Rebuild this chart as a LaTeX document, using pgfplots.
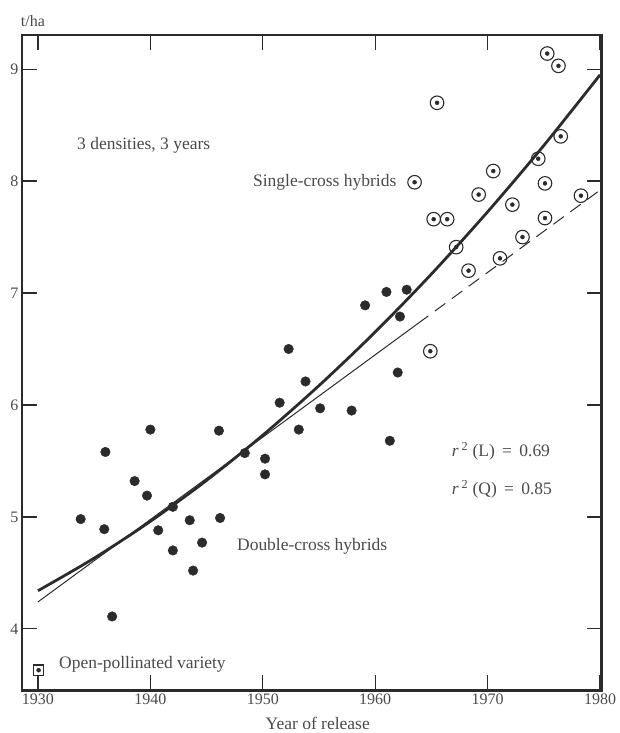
\documentclass[border=0pt]{standalone}
\usepackage{pgfplots}
\usepackage{pgfplotstable}
\pgfplotsset{compat=1.18}
\usepackage{fontspec}
\setmainfont{Liberation Serif}
\definecolor{ink}{HTML}{2B2B2B}
\definecolor{txt}{HTML}{4A4A4A}

\pgfplotstableread{
x y
1933.8 4.98
1935.9 4.89
1936.0 5.58
1936.6 4.11
1938.6 5.32
1939.7 5.19
1940.0 5.78
1940.7 4.88
1942.0 5.09
1942.0 4.70
1943.5 4.97
1943.8 4.52
1944.6 4.77
1946.1 5.77
1946.2 4.99
1948.4 5.57
1950.2 5.52
1950.2 5.38
1951.5 6.02
1952.3 6.50
1953.2 5.78
1953.8 6.21
1955.1 5.97
1957.9 5.95
1959.1 6.89
1961.0 7.01
1961.3 5.68
1962.0 6.29
1962.2 6.79
1962.8 7.03
}\doublecross

\pgfplotstableread{
x y
1963.5 7.99
1964.9 6.48
1965.2 7.66
1965.5 8.70
1966.4 7.66
1967.2 7.41
1968.3 7.20
1969.2 7.88
1970.5 8.09
1971.1 7.31
1972.2 7.79
1973.1 7.50
1974.5 8.20
1975.1 7.98
1975.1 7.67
1975.3 9.14
1976.3 9.03
1976.5 8.40
1978.3 7.87
}\singlecross

\pgfplotstableread{
x y
1930 4.340
1935 4.631
1940 4.960
1945 5.326
1950 5.730
1955 6.173
1960 6.652
1965 7.170
1970 7.726
1975 8.319
1980 8.950
}\quadfit

\pgfplotstableread{
x y
1930 4.240
1963.8 6.728
}\linsolid

\pgfplotstableread{
x y
1963.8 6.728
1980 7.920
}\lindash

\begin{document}
\begin{tikzpicture}
\begin{axis}[
  at={(22pt,42pt)}, anchor=south west,
  scale only axis, width=580pt, height=656pt,
  xmin=1928.58, xmax=1980.13, ymin=3.449, ymax=9.306,
  xtick={1930,1940,1950,1960,1970,1980},
  ytick={4,5,6,7,8,9},
  tick align=inside,
  major tick length=15pt,
  axis line style={draw=ink},
  every tick/.style={line width=1.4pt, draw=ink},
  tick label style={font=\fontsize{16}{16}\selectfont, text=txt},
  /pgf/number format/assume math mode=true,
  /pgf/number format/1000 sep={},
  clip=false,
]
\draw[ink, line width=2.4pt] (rel axis cs:0,0) rectangle (rel axis cs:1,1);
\addplot[ink, line width=1pt] table[x=x,y=y] {\linsolid};
\addplot[ink, line width=1pt, dash pattern=on 13pt off 8pt] table[x=x,y=y] {\lindash};
\addplot[ink, line width=2.8pt, smooth] table[x=x,y=y] {\quadfit};

\addplot[only marks, mark=*, mark size=4.8pt, ink] table[x=x,y=y] {\doublecross};
\addplot[only marks, mark=o, mark size=6.8pt, mark options={line width=1.1pt, draw=ink}] table[x=x,y=y] {\singlecross};
\addplot[only marks, mark=*, mark size=2pt, ink] table[x=x,y=y] {\singlecross};

\addplot[only marks, mark=square, mark size=5.2pt, mark options={line width=1.1pt, draw=ink}] coordinates {(1930.06,3.63)};
\addplot[only marks, mark=*, mark size=2pt, ink] coordinates {(1930.06,3.63)};

\tikzset{lab/.style={font=\fontsize{17.5}{18}\selectfont, text=txt, inner sep=0pt}}
\node[lab, anchor=west] at (axis cs:1933.47,8.324) {3 densities, 3 years};
\node[lab, anchor=east] at (axis cs:1961.9,7.985) {Single-cross hybrids};
\node[lab, anchor=west] at (axis cs:1947.7,4.735) {Double-cross hybrids};
\node[lab, anchor=west] at (axis cs:1966.8,5.586) {\textit{r}\,\textsuperscript{2} (L) \,=\, 0.69};
\node[lab, anchor=west] at (axis cs:1966.8,5.244) {\textit{r}\,\textsuperscript{2} (Q) \,=\, 0.85};
\node[lab, anchor=west] at (axis cs:1931.87,3.68) {Open-pollinated variety};
\end{axis}
\node[font=\fontsize{17.5}{18}\selectfont, text=txt] at (318pt,9pt) {Year of release};
\node[font=\fontsize{16}{16}\selectfont, text=txt] at (33pt,712pt) {t/ha};
\path[use as bounding box] (0,0) rectangle (620pt,733pt);
\end{tikzpicture}
\end{document}
